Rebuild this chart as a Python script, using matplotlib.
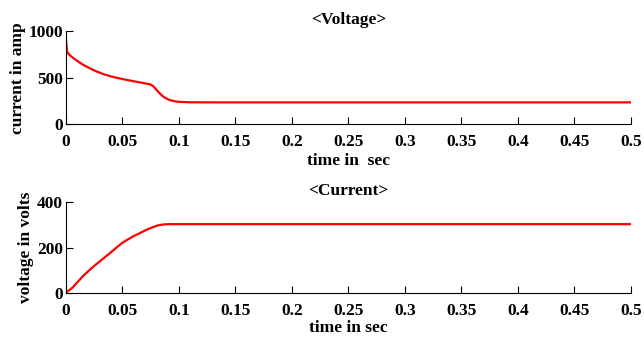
import numpy as np
import matplotlib.pyplot as plt

plt.rcParams['font.family'] = ['Liberation Serif', 'DejaVu Serif']
plt.rcParams['font.weight'] = 'bold'
plt.rcParams['font.size'] = 12.5

# curve (time in sec)
t_amp = [0.0, 0.0005, 0.001, 0.003, 0.006, 0.010, 0.015, 0.020, 0.025, 0.030,
         0.035, 0.040, 0.045, 0.050, 0.055, 0.060, 0.0654, 0.070, 0.0743, 0.077,
         0.080, 0.083, 0.086, 0.089, 0.092, 0.096, 0.100, 0.105, 0.110, 0.130,
         0.200, 0.300, 0.400, 0.500]
amp = [903, 830, 778, 745, 715, 680, 640, 608, 578, 553,
       531, 514, 499, 486, 474, 462, 450, 440, 430, 412,
       372, 332, 298, 276, 260, 248, 242, 239, 237, 236,
       236, 236, 236, 236]

t_volt = [0.0, 0.003, 0.006, 0.010, 0.015, 0.020, 0.025, 0.030, 0.035, 0.040,
          0.045, 0.050, 0.055, 0.060, 0.0654, 0.071, 0.077, 0.081, 0.084, 0.087,
          0.090, 0.095, 0.100, 0.200, 0.300, 0.400, 0.500]
volt = [5, 14, 26, 48, 75, 98, 120, 140, 160, 180,
        201, 221, 236, 250, 263, 277, 289, 296, 299, 301,
        302, 302, 302, 302, 302, 302, 302]

fig = plt.figure(figsize=(6.44, 3.38), dpi=100)
ax1 = fig.add_axes([0.1025, 0.632, 0.877, 0.276])
ax2 = fig.add_axes([0.1025, 0.1322, 0.877, 0.271])

xt = np.arange(0, 0.501, 0.05)
xtl = ['0', '0.05', '0.1', '0.15', '0.2', '0.25', '0.3', '0.35', '0.4', '0.45', '0.5']

for ax in (ax1, ax2):
    ax.spines['top'].set_visible(False)
    ax.spines['right'].set_visible(False)
    ax.set_xlim(0, 0.5)
    ax.set_xticks(xt)
    ax.set_xticklabels(xtl)
    ax.tick_params(direction='in', length=5, width=0.8)
    ax.tick_params(axis='x', pad=7)
    ax.tick_params(axis='y', pad=2)
    for lab in ax.get_xticklabels() + ax.get_yticklabels():
        lab.set_fontweight('bold')

ax1.plot(t_amp, amp, color='red', lw=1.6)
ax1.set_ylim(0, 1000)
ax1.set_yticks([0, 500, 1000])
ax1.set_title('<Voltage>', fontweight='bold', fontsize=12.5, pad=5)
ax1.set_xlabel('time in  sec', fontweight='bold', labelpad=2)
ax1.set_ylabel('current in amp', fontweight='bold', labelpad=2)

ax2.plot(t_volt, volt, color='red', lw=1.6)
ax2.set_ylim(0, 400)
ax2.set_yticks([0, 200, 400])
ax2.set_title('<Current>', fontweight='bold', fontsize=12.5, pad=5)
ax2.set_xlabel('time in sec', fontweight='bold', labelpad=1)
ax2.set_ylabel('voltage in volts', fontweight='bold', labelpad=2)

fig.savefig('out.png', dpi=100)
